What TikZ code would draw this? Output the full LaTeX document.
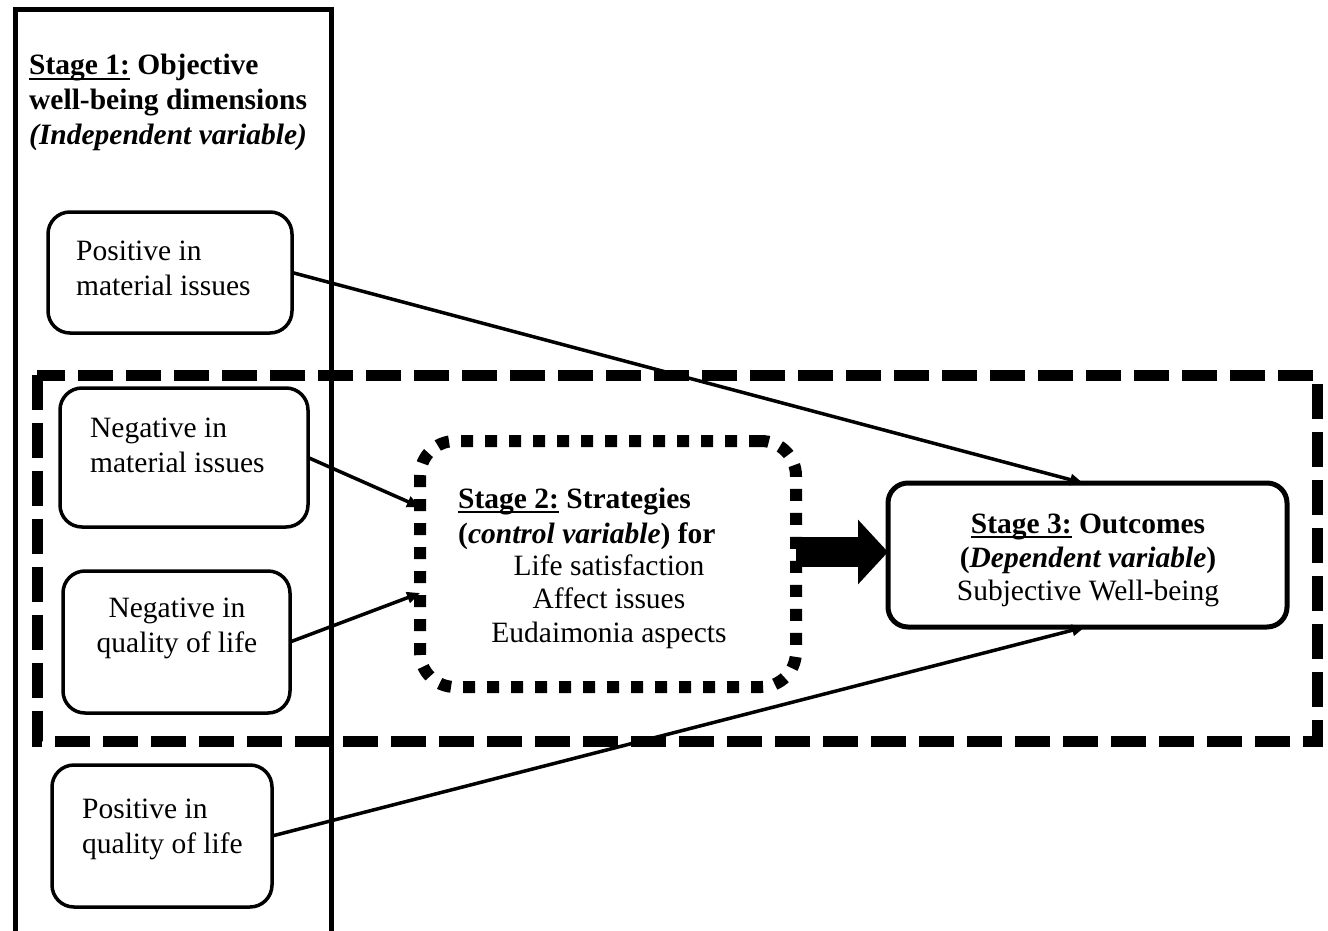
\documentclass[tikz,border=0pt]{standalone}
\usepackage{fontspec}
\setmainfont{Liberation Serif}
\usetikzlibrary{arrows.meta}
% underline that sits just below the baseline
\newcommand\myul[1]{\setbox0\hbox{#1}\rlap{\rule[-5pt]{\wd0}{2pt}}\box0\relax}
\begin{document}
\begin{tikzpicture}[x=1pt,y=-1pt,
  txt/.style={inner sep=0pt, font=\fontsize{29.5}{35}\selectfont},
  itembox/.style={draw, line width=3.5pt, rounded corners=22pt, inner sep=0pt, outer sep=0pt},
  link/.style={line width=3.5pt, -{Triangle[length=13pt,width=11pt]}},
]
\useasboundingbox (0,0) rectangle (1328,931);

% stage 1 column frame, open at the bottom
\draw[line width=5pt] (15,931) -- (15,9.5) -- (331,9.5) -- (331,931);
\node[txt, anchor=base west] (h1a) at (29,75) {\bfseries\myul{Stage 1:} Objective};
\node[txt, anchor=base west] (h1b) at (29,110) {\bfseries well-being dimensions};
\node[txt, anchor=base west] (h1c) at (29,145) {\bfseries\itshape (Independent variable)};

% dashed frame
\draw[line width=11pt, dash pattern=on 35pt off 13pt] (37,375) rectangle (1317,741);

% item boxes
\node[itembox, minimum width=244, minimum height=121] (b1) at (170,272.5) {};
\node[txt, anchor=base west] (b1a) at (76,260) {Positive in};
\node[txt, anchor=base west] (b1b) at (76,295) {material issues};

\node[itembox, minimum width=248, minimum height=139] (b2) at (184,457.5) {};
\node[txt, anchor=base west] (b2a) at (90,437) {Negative in};
\node[txt, anchor=base west] (b2b) at (90,472) {material issues};

\node[itembox, minimum width=227, minimum height=142] (b3) at (176.5,642) {};
\node[txt, anchor=base] (b3a) at (177,617) {Negative in};
\node[txt, anchor=base] (b3b) at (177,652) {quality of life};

\node[itembox, minimum width=220, minimum height=142] (b4) at (162,836) {};
\node[txt, anchor=base west] (b4a) at (82,818) {Positive in};
\node[txt, anchor=base west] (b4b) at (82,853) {quality of life};

% stage 2: dotted box
\node[draw, line width=12pt, dash pattern=on 12pt off 12pt, rounded corners=35pt,
      minimum width=376, minimum height=246, inner sep=0pt, outer sep=0pt] (s2) at (608,564) {};
\node[txt, anchor=base west] (s2a) at (458,508) {\bfseries\myul{Stage 2:} Strategies};
\node[txt, anchor=base west] (s2b) at (458,543) {\bfseries (\textit{control variable}) for};
\node[txt, anchor=base] (s2c) at (609,575) {Life satisfaction};
\node[txt, anchor=base] (s2d) at (609,608) {Affect issues};
\node[txt, anchor=base] (s2e) at (609,642) {Eudaimonia aspects};

% stage 3 box
\node[draw, line width=5pt, rounded corners=20pt, minimum width=399, minimum height=144,
      inner sep=0pt, outer sep=0pt, fill=white] (s3) at (1087.5,555) {};
\node[txt, anchor=base] (s3a) at (1088,533) {\bfseries\myul{Stage 3:} Outcomes};
\node[txt, anchor=base] (s3b) at (1088,567) {\bfseries (\textit{Dependent variable})};
\node[txt, anchor=base] (s3c) at (1088,600) {Subjective Well-being};

% connectors
\draw[link] (b1.east) -- ([xshift=-4.5pt]s3.north);
\draw[link] (b2.east) -- ([yshift=57pt]s2.west);
\draw[link] (b3.east) -- ([yshift=-29pt]s2.west);
\draw[link] (b4.east) -- ([xshift=-2.5pt]s3.south);
\draw[line width=30pt, -{Triangle[length=30pt,width=63pt]}] ([yshift=3pt]s2.east |- s3.west) -- ([yshift=3pt]s3.west);
\end{tikzpicture}
\end{document}
